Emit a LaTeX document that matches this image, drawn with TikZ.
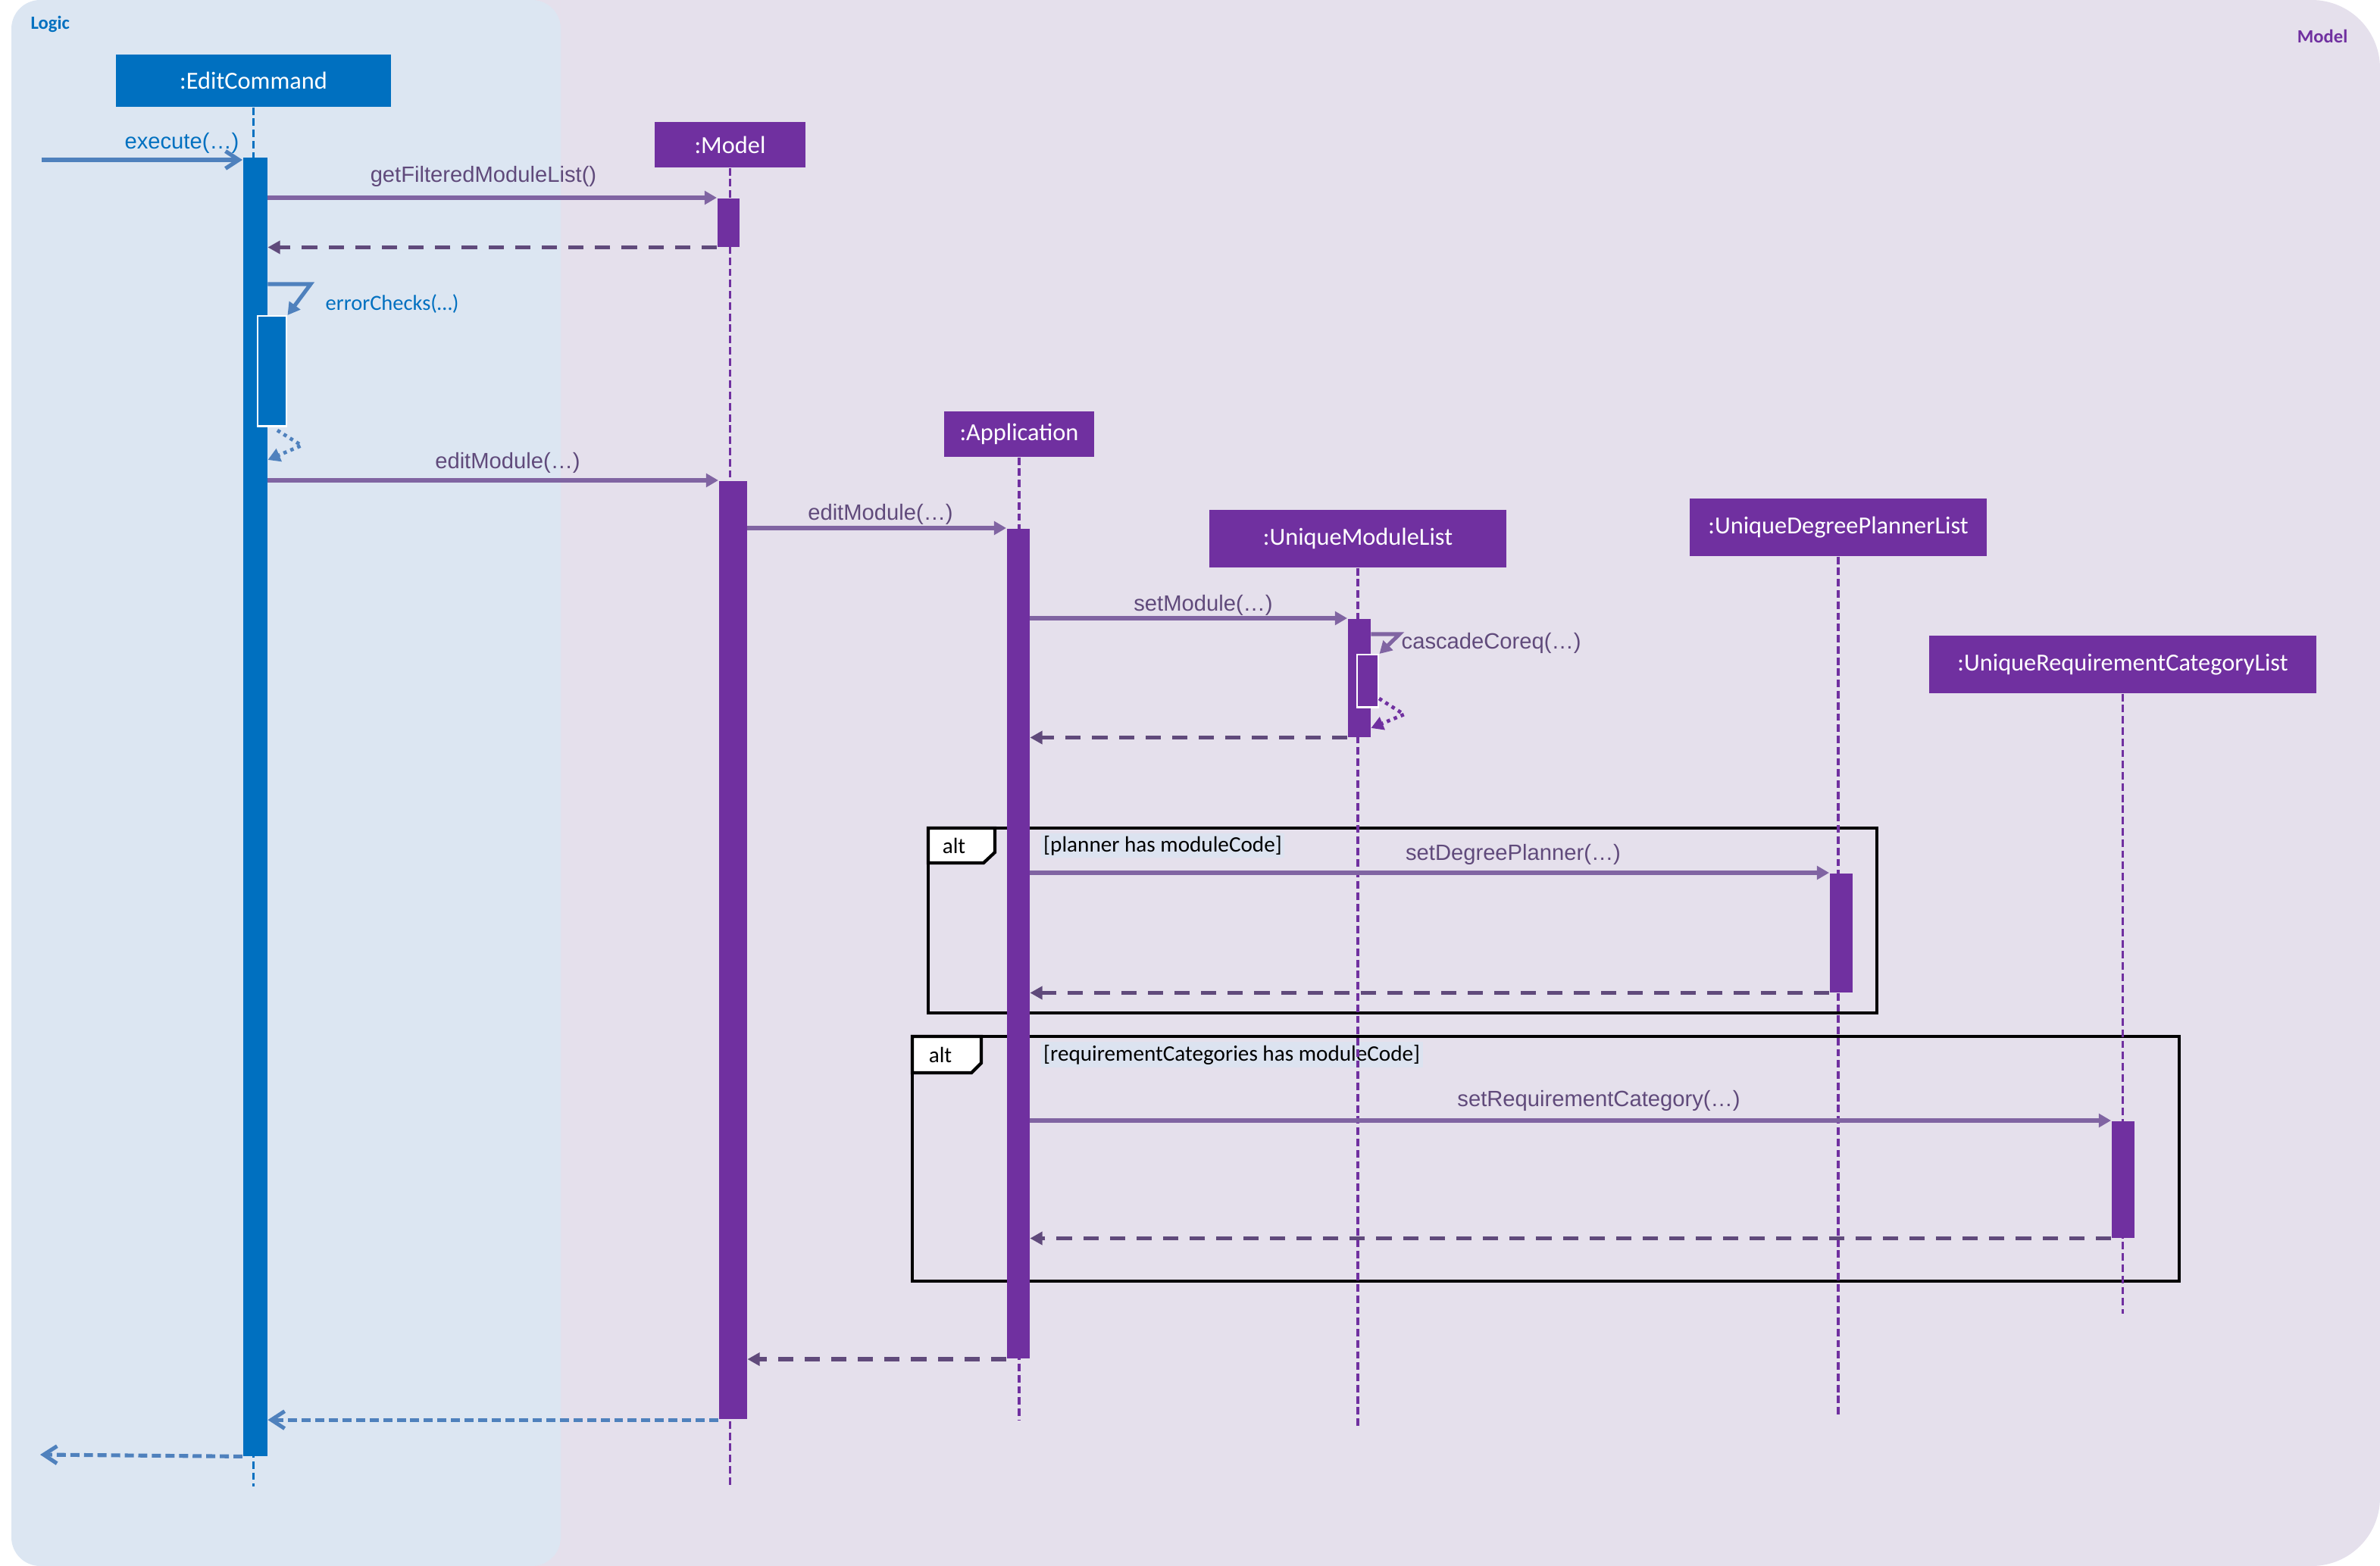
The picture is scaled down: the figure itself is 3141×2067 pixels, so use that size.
\documentclass[tikz,border=0pt]{standalone}
\usepackage{fontspec}
\usetikzlibrary{arrows.meta}
\newfontfamily\calfont{Carlito}
\newfontfamily\arifont{Liberation Sans}
\definecolor{logicbg}{HTML}{DCE6F2}
\definecolor{modelbg}{HTML}{E5E0EC}
\definecolor{blueC}{HTML}{0070C0}
\definecolor{blueA}{HTML}{4F81BD}
\definecolor{purpC}{HTML}{7030A0}
\definecolor{msgC}{HTML}{8064A2}
\definecolor{retC}{HTML}{604A7B}
\definecolor{guardbg}{HTML}{DCE3F0}
\begin{document}
\begin{tikzpicture}[x=0.01cm,y=-0.01cm,
  objbox/.style={rectangle, inner sep=0pt, text=white, font=\calfont\fontsize{9.2}{11}\selectfont},
  pbox/.style={objbox, fill=purpC},
  bbox/.style={objbox, fill=blueC},
  life/.style={line width=0.95pt, dash pattern=on 2.8pt off 1.4pt},
  actbar/.style={rectangle, inner sep=0pt, draw=none, anchor=north west},
  nestbar/.style={rectangle, inner sep=0pt, draw=white, line width=0.7pt, anchor=north west},
  call/.style={draw=msgC, line width=1.45pt, -{Triangle[length=4.6pt,width=5pt]}},
  ret/.style={draw=retC, line width=1.6pt, dash pattern=on 5.7pt off 4.3pt, -{Triangle[length=4.6pt,width=4.8pt]}},
  bcall/.style={draw=blueA, line width=1.5pt, -{Straight Barb[length=5pt,width=6.5pt]}},
  bret/.style={draw=blueA, line width=1.45pt, dash pattern=on 3.4pt off 1.7pt, -{Straight Barb[length=5pt,width=6.5pt]}},
  bself/.style={draw=blueA, line width=1.45pt, -{Triangle[length=4.6pt,width=5pt]}},
  pself/.style={draw=msgC, line width=1.45pt, -{Triangle[length=4.6pt,width=5pt]}},
  bdot/.style={draw=blueA, line width=1.35pt, dash pattern=on 1.3pt off 1.5pt, -{Triangle[length=4.6pt,width=5pt]}},
  pdot/.style={draw=purpC, line width=1.35pt, dash pattern=on 1.3pt off 1.5pt, -{Triangle[length=4.6pt,width=5pt]}},
  msglbl/.style={font=\arifont\fontsize{8.3}{10}\selectfont, text=retC, inner sep=0pt},
  frame/.style={draw=black, line width=1.2pt},
  tab/.style={draw=black, fill=white, line width=1.2pt},
  altlbl/.style={font=\calfont\fontsize{8.3}{10}\selectfont, text=black, inner sep=0pt},
  guard/.style={font=\calfont\fontsize{8.3}{10}\selectfont, text=black, fill=guardbg, inner sep=1pt, anchor=west}
]
\useasboundingbox (0,0) rectangle (3141,2067);
% backgrounds
\fill[modelbg, rounded corners=0.9cm] (400,0) rectangle (3141,2067);
\fill[logicbg, rounded corners=0.38cm] (15,0) rectangle (740,2067);
\node[anchor=west, text=blueC, inner sep=0pt, font=\calfont\bfseries\fontsize{7}{8}\selectfont] (logiclbl) at (40,32) {Logic};
\node[anchor=east, text=purpC, inner sep=0pt, font=\calfont\bfseries\fontsize{7}{8}\selectfont] (modellbl) at (3099,48) {Model};

% alt frames
\draw[frame] (1225,1093) rectangle (2477,1337);
\draw[tab] (1225,1093) -- (1313,1093) -- (1313,1125) -- (1298,1139) -- (1225,1139) -- cycle;
\node[altlbl] (alt1) at (1259,1116) {alt};
\node[guard] (guard1) at (1373,1116) {[planner has moduleCode]};
\draw[frame] (1204,1368) rectangle (2876,1691);
\draw[tab] (1204,1368) -- (1295,1368) -- (1295,1403) -- (1282,1416) -- (1204,1416) -- cycle;
\node[altlbl] (alt2) at (1241,1392) {alt};
\node[guard] (guard2) at (1373,1392) {[requirementCategories has moduleCode]};

% object boxes
\node[bbox, minimum width=3.63cm, minimum height=0.69cm] (ec) at (334.5,106.5) {:EditCommand};
\node[pbox, minimum width=1.99cm, minimum height=0.60cm] (model) at (963.5,191) {:Model};
\node[pbox, minimum width=1.98cm, minimum height=0.60cm] (app) at (1345,573) {:Application};
\node[pbox, minimum width=3.92cm, minimum height=0.76cm] (uml) at (1792,711) {:UniqueModuleList};
\node[pbox, minimum width=3.92cm, minimum height=0.76cm] (udpl) at (2426,696) {:UniqueDegreePlannerList};
\node[pbox, minimum width=5.11cm, minimum height=0.76cm] (urcl) at (2801.5,877) {:UniqueRequirementCategoryList};

% lifelines
\coordinate (ecend) at (334.5,1962);
\coordinate (modelend) at (963.5,1962);
\coordinate (append) at (1345,1874);
\coordinate (umlend) at (1792,1887);
\coordinate (udplend) at (2426,1872);
\coordinate (urclend) at (2801.5,1734);
\draw[life, draw=blueC] (ec.south) -- (ecend);
\draw[life, draw=purpC] (model.south) -- (modelend);
\draw[life, draw=purpC] (app.south) -- (append);
\draw[life, draw=purpC] (uml.south) -- (umlend);
\draw[life, draw=purpC] (udpl.south) -- (udplend);
\draw[life, draw=purpC] (urcl.south) -- (urclend);

% activation bars
\node[actbar, fill=blueC, minimum width=0.32cm, minimum height=17.13cm] (ecbar) at (320,207) {};
\node[nestbar, fill=blueC, minimum width=0.38cm, minimum height=1.45cm] (ecnest) at (339,416) {};
\node[actbar, fill=purpC, minimum width=0.29cm, minimum height=0.64cm] (mbar1) at (946,261) {};
\node[actbar, fill=purpC, minimum width=0.37cm, minimum height=12.38cm] (mbar2) at (948,634) {};
\node[actbar, fill=purpC, minimum width=0.30cm, minimum height=10.95cm] (appbar) at (1328,697) {};
\node[actbar, fill=purpC, minimum width=0.30cm, minimum height=1.56cm] (umlbar) at (1778,816) {};
\node[nestbar, fill=purpC, minimum width=0.28cm, minimum height=0.69cm] (umlnest) at (1790,863) {};
\node[actbar, fill=purpC, minimum width=0.30cm, minimum height=1.57cm] (udplbar) at (2414,1152) {};
\node[actbar, fill=purpC, minimum width=0.30cm, minimum height=1.54cm] (urclbar) at (2786,1479) {};

% messages
\coordinate (exstart) at (55,211);
\draw[bcall] (exstart) -- (exstart -| ecbar.west);
\node[msglbl, text=blueC] (exlbl) at (240,189) {execute(…)};

\draw[call] (mbar1.north west -| ecbar.east) -- (mbar1.north west);
\node[msglbl] (gflbl) at (638,233) {getFilteredModuleList()};
\draw[ret] (mbar1.south west) -- (mbar1.south west -| ecbar.east);

\coordinate (ecA) at (410,375);
\draw[bself] (ecA -| ecbar.east) -- (ecA) -- (ecnest.north east);
\node[anchor=west, inner sep=0pt, text=blueC, font=\calfont\fontsize{8.1}{10}\selectfont] (eclbl) at (429,401) {errorChecks(…)};
\coordinate (ecR1) at (366,568);
\coordinate (ecR2) at (398,588);
\coordinate (ecR3) at (352,607);
\draw[bdot] (ecR1) -- (ecR2) -- (ecR3 -| ecbar.east);

\draw[call] (mbar2.north west -| ecbar.east) -- (mbar2.north west);
\node[msglbl] (em1lbl) at (670,611) {editModule(…)};

\draw[call] (appbar.north west -| mbar2.east) -- (appbar.north west);
\node[msglbl] (em2lbl) at (1162,679) {editModule(…)};

\draw[call] (umlbar.north west -| appbar.east) -- (umlbar.north west);
\node[msglbl] (smlbl) at (1588,799) {setModule(…)};

\coordinate (ccA) at (1847,837);
\draw[pself] (ccA -| umlbar.east) -- (ccA) -- (umlnest.north east);
\node[msglbl, anchor=west] (cclbl) at (1849,849) {cascadeCoreq(…)};
\coordinate (ccR1) at (1820,922);
\coordinate (ccR2) at (1853,943);
\coordinate (ccR3) at (1808,961);
\draw[pdot] (ccR1) -- (ccR2) -- (ccR3 -| umlbar.east);
\draw[ret] (umlbar.south west) -- (umlbar.south west -| appbar.east);

\draw[call] (udplbar.north west -| appbar.east) -- (udplbar.north west);
\node[msglbl] (sdplbl) at (1997,1128) {setDegreePlanner(…)};
\draw[ret] (udplbar.south west) -- (udplbar.south west -| appbar.east);

\draw[call] (urclbar.north west -| appbar.east) -- (urclbar.north west);
\node[msglbl] (srclbl) at (2110,1453) {setRequirementCategory(…)};
\draw[ret] (urclbar.south west) -- (urclbar.south west -| appbar.east);

\draw[ret] (appbar.south west) -- (appbar.south west -| mbar2.east);
\draw[bret] (mbar2.south west) -- (mbar2.south west -| ecbar.east);
\coordinate (outend) at (53,1920);
\draw[bret] (ecbar.south west) -- (outend);
\end{tikzpicture}
\end{document}
